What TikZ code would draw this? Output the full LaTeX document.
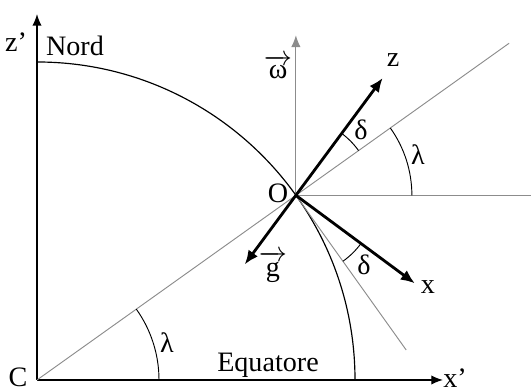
\documentclass[tikz,border=0pt]{standalone}
\usepackage{fontspec}
\setmainfont{Liberation Serif}
\usepackage{amsmath}
\usetikzlibrary{arrows.meta, calc}
\definecolor{axisgray}{RGB}{140,140,140}

\begin{document}
\begin{tikzpicture}[x=0.015cm, y=0.015cm,
    font=\fontsize{12}{14}\selectfont,
    axis/.style={line width=0.6pt, -{Latex[length=5pt, width=4pt]}},
    vect/.style={line width=1.2pt, -{Latex[length=6pt, width=5pt]}},
    guide/.style={line width=0.4pt, axisgray},
    anglearc/.style={line width=0.4pt},
    lbl/.style={inner sep=0pt}
]
\useasboundingbox (-37,-11) rectangle (494,380);

% Centre and point on the surface
\coordinate (C) at (0,0);
\coordinate (O) at (35.5:318);

% Axes of the Earth
\coordinate (zp) at (0,366);
\coordinate (xp) at (406,0);
\draw[axis] (C) -- (zp);
\draw[axis] (C) -- (xp);

% Meridian
\draw[line width=0.5pt] (0,318) arc[start angle=90, end angle=0, radius=318];

% Radius through O, horizontal and vertical at O
\coordinate (radend) at (35.5:580);
\coordinate (horend) at ($(O)+(235,0)$);
\coordinate (omend) at ($(O)+(0,160)$);
\coordinate (tanend) at ($(O)+(-54.5:190)$);
\draw[guide] (C) -- (radend);
\draw[guide] (O) -- (horend);
\draw[guide, -{Latex[length=5pt, width=4pt]}] (O) -- (omend);
\draw[guide] (O) -- (tanend);

% Local axes
\coordinate (zend) at ($(O)+(53.5:146)$);
\coordinate (xend) at ($(O)+(-36.5:148)$);
\coordinate (gend) at ($(O)+(233.5:86)$);
\draw[vect] (O) -- (zend);
\draw[vect] (O) -- (xend);
\draw[vect] (O) -- (gend);

% Angles
\draw[anglearc] (122,0) arc[start angle=0, end angle=35.5, radius=122];
\draw[anglearc] ($(O)+(116,0)$) arc[start angle=0, end angle=35.5, radius=116];
\draw[anglearc] ($(O)+(35.5:77)$) arc[start angle=35.5, end angle=53.5, radius=77];
\draw[anglearc] ($(O)+(-54.5:81)$) arc[start angle=-54.5, end angle=-36.5, radius=81];

% Labels
\node[lbl] (lC) at (-19,3) {C};
\node[lbl] (lO) at (241,187) {O};
\node[lbl] (lzp) at (-21,338) {z’};
\node[lbl] (lnord) at (38,334) {Nord};
\node[lbl] (lxp) at (418,2) {x’};
\node[lbl] (lequ) at (231,15) {Equatore};
\node[lbl] (lom) at (241,313) {$\overrightarrow{\text{ω}}$};
\node[lbl] (lz) at (356,320) {z};
\node[lbl] (lx) at (391,93) {x};
\node[lbl] (lg) at (236,113) {$\overrightarrow{\text{g}}$};
\node[lbl] (ldup) at (324,250) {δ};
\node[lbl] (ldlow) at (327,115) {δ};
\node[lbl] (llup) at (381,225) {λ};
\node[lbl] (lllow) at (130,37) {λ};

\end{tikzpicture}
\end{document}
